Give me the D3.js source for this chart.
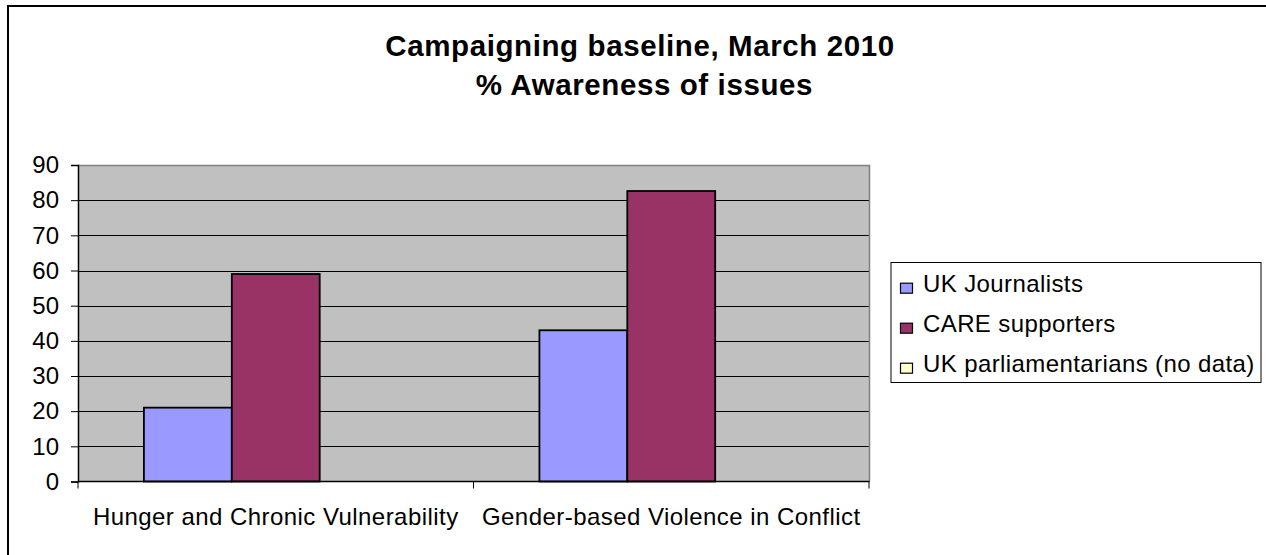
<!DOCTYPE html>
<html>
<head>
<meta charset="utf-8">
<script src="https://cdn.jsdelivr.net/npm/d3@7"></script>
<style>
  html, body { margin: 0; padding: 0; background: #fff; }
  svg { display: block; }
  text { font-family: "Liberation Sans", Arial, sans-serif; fill: #000; }
</style>
</head>
<body>
<svg id="chart" width="1266" height="555"></svg>
<script>
const titleLines = ["Campaigning baseline, March 2010", " % Awareness of issues"];
const categories = ["Hunger and Chronic Vulnerability", "Gender-based Violence in Conflict"];
const seriesNames = ["UK Journalists", "CARE supporters", "UK parliamentarians (no data)"];
const journalists = [21, 43];
const supporters = [59, 82.6];
const parliamentarians = [null, null];
const seriesColors = ["#9999FF", "#993366", "#FFFFCC"];
const yTicks = [0, 10, 20, 30, 40, 50, 60, 70, 80, 90];

const seriesValues = [journalists, supporters, parliamentarians];

const svg = d3.select("#chart");

// outer chart border
svg.append("rect")
  .attr("x", 8).attr("y", 6)
  .attr("width", 1280).attr("height", 580)
  .attr("fill", "#fff").attr("stroke", "#000").attr("stroke-width", 2);

// title
svg.append("text")
  .attr("x", 640).attr("y", 56)
  .attr("text-anchor", "middle")
  .style("font-size", "29.5px").style("font-weight", "bold")
  .style("letter-spacing", "0.6px")
  .text(titleLines[0]);
svg.append("text")
  .attr("x", 640).attr("y", 95)
  .attr("text-anchor", "middle")
  .style("font-size", "29.5px").style("font-weight", "bold")
  .style("letter-spacing", "0.6px")
  .style("white-space", "pre")
  .text(titleLines[1]);

const plot = { left: 78, right: 869, top: 165, bottom: 481.5 };

const x0 = d3.scaleBand()
  .domain(categories)
  .range([plot.left, plot.right])
  .paddingInner(1 / 3)
  .paddingOuter(1 / 6);

const x1 = d3.scaleBand()
  .domain(d3.range(seriesNames.length))
  .range([0, x0.bandwidth()]);

const y = d3.scaleLinear()
  .domain([0, 90])
  .range([plot.bottom, plot.top]);

// plot background
svg.append("rect")
  .attr("x", plot.left).attr("y", plot.top)
  .attr("width", plot.right - plot.left)
  .attr("height", plot.bottom - plot.top)
  .attr("fill", "#C0C0C0");

// gridlines
svg.append("g")
  .selectAll("line")
  .data(yTicks.filter(d => d > 0 && d < 90))
  .join("line")
  .attr("x1", plot.left).attr("x2", plot.right)
  .attr("y1", d => Math.round(y(d)) + 0.5).attr("y2", d => Math.round(y(d)) + 0.5)
  .attr("stroke", "#000").attr("stroke-width", 1);

// top and right plot border (gray)
svg.append("path")
  .attr("d", `M${plot.left},${plot.top + 0.5}H${plot.right + 0.5}V${plot.bottom}`)
  .attr("fill", "none").attr("stroke", "#808080").attr("stroke-width", 1.5);

// bars
const groups = svg.append("g")
  .selectAll("g")
  .data(categories)
  .join("g")
  .attr("transform", d => `translate(${x0(d)},0)`);

groups.selectAll("rect")
  .data((c, ci) => seriesValues.map((vals, si) => ({ si, v: vals[ci] })).filter(d => d.v != null))
  .join("rect")
  .attr("x", d => x1(d.si))
  .attr("y", d => y(d.v))
  .attr("width", x1.bandwidth())
  .attr("height", d => y(0) - y(d.v))
  .attr("fill", d => seriesColors[d.si])
  .attr("stroke", "#000").attr("stroke-width", 1.8);

// y axis
const yAxis = d3.axisLeft(y).tickValues(yTicks).tickSize(7).tickPadding(12);
const yg = svg.append("g")
  .attr("transform", `translate(${plot.left},0)`)
  .call(yAxis);
yg.select(".domain").attr("stroke", "#000").attr("stroke-width", 1.5);
yg.selectAll(".tick line").attr("stroke", "#000");
yg.selectAll(".tick text")
  .style("font-size", "24px")
  .style("font-family", '"Liberation Sans", Arial, sans-serif')
  .attr("fill", "#000");

// x axis
const xAxisScale = d3.scaleLinear().domain([0, categories.length]).range([plot.left, plot.right]);
const xg = svg.append("g")
  .attr("transform", `translate(0,${plot.bottom})`);
xg.append("line")
  .attr("x1", plot.left).attr("x2", plot.right + 0.5)
  .attr("stroke", "#000").attr("stroke-width", 1.5);
xg.selectAll("line.tk")
  .data(d3.range(categories.length + 1))
  .join("line")
  .attr("class", "tk")
  .attr("x1", d => xAxisScale(d)).attr("x2", d => xAxisScale(d))
  .attr("y1", 0).attr("y2", 7)
  .attr("stroke", "#000");
xg.selectAll("text")
  .data(categories)
  .join("text")
  .attr("x", d => x0(d) + x0.bandwidth() / 2)
  .attr("y", 43.5)
  .attr("text-anchor", "middle")
  .style("font-size", "24px")
  .style("letter-spacing", "0.45px")
  .text(d => d);

// legend
const legend = svg.append("g");
legend.append("rect")
  .attr("x", 891).attr("y", 262.5)
  .attr("width", 370).attr("height", 120)
  .attr("fill", "#fff").attr("stroke", "#000").attr("stroke-width", 1);
const items = legend.selectAll("g.item")
  .data(seriesNames)
  .join("g")
  .attr("class", "item")
  .attr("transform", (d, i) => `translate(0,${291.7 + i * 40})`);
items.append("rect")
  .attr("x", 900.5).attr("y", -8.5)
  .attr("width", 12).attr("height", 10)
  .attr("fill", (d, i) => seriesColors[i])
  .attr("stroke", "#000").attr("stroke-width", 1.2);
items.append("text")
  .attr("x", 923).attr("y", 0)
  .style("font-size", "24px")
  .style("letter-spacing", "0.4px")
  .text(d => d);
</script>
</body>
</html>
